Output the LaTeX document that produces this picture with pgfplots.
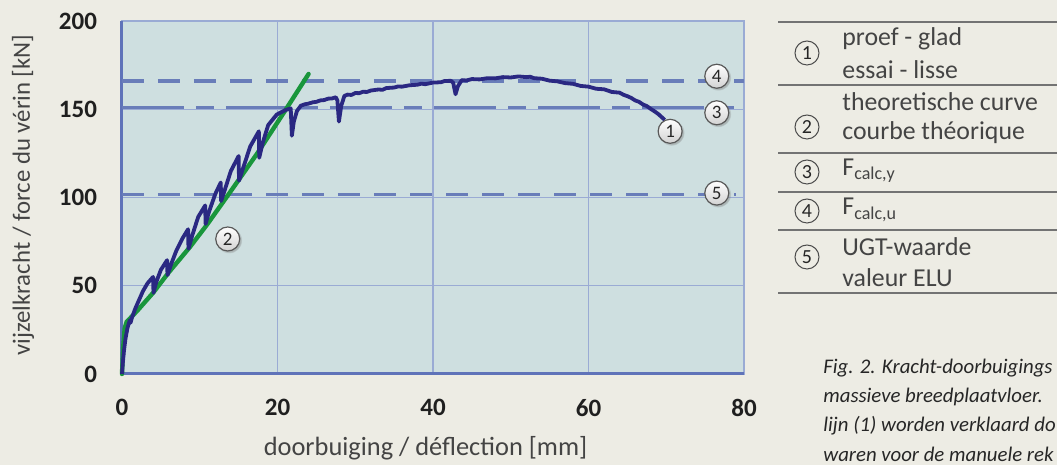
\documentclass[border=0pt]{standalone}
\usepackage{fontspec}
\setmainfont{Carlito}
\usepackage{pgfplots}
\pgfplotsset{compat=1.18}
\usetikzlibrary{shadows}
\definecolor{outerbg}{HTML}{EDECE4}
\definecolor{plotbg}{HTML}{CEDFE0}
\definecolor{gridc}{HTML}{9AABD4}
\definecolor{axisc}{HTML}{5F73B9}
\definecolor{dashc}{HTML}{697DB9}
\definecolor{testc}{HTML}{2A2882}
\definecolor{theoc}{HTML}{19963C}
\definecolor{txtc}{HTML}{444444}
\tikzset{
  plotnum/.style={circle, draw=black!65, line width=0.6pt, top color=white, bottom color=gray!35,
    minimum size=12pt, inner sep=0pt, font=\fontsize{9.5}{9.5}\selectfont, text=black!85,
    circular drop shadow={shadow xshift=0.6pt, shadow yshift=-0.6pt, opacity=0.45}},
  legnum/.style={circle, draw=black!70, line width=0.5pt, minimum size=12pt, inner sep=0pt,
    font=\fontsize{10}{10}\selectfont, text=black!85},
  legtxt/.style={anchor=west, inner sep=0pt, font=\fontsize{12.9}{12.9}\selectfont, text=txtc},
  captxt/.style={anchor=west, inner sep=0pt, font=\fontsize{10.4}{10.4}\selectfont\itshape, text=black!85}
}
\begin{document}
\begin{tikzpicture}
\useasboundingbox (0,0) rectangle (528.5pt,232.5pt);
\clip (0,0) rectangle (528.5pt,232.5pt);
\fill[outerbg] (0,0) rectangle (528.5pt,232.5pt);
\begin{axis}[
  at={(61pt,45.5pt)}, anchor=south west,
  scale only axis, width=311pt, height=176.5pt,
  xmin=0, xmax=80, ymin=0, ymax=200,
  xtick={0,20,40,60,80}, ytick={0,50,100,150,200},
  major tick length=0pt,
  grid=major,
  major grid style={draw=gridc, line width=0.6pt},
  axis line style={draw=gridc, line width=0.6pt},
  axis background/.style={fill=plotbg},
  /pgf/number format/assume math mode=true,
  ticklabel style={font=\fontsize{12.5}{12.5}\selectfont\bfseries, text=black!88},
  xticklabel style={yshift=-9pt},
  yticklabel style={xshift=-9pt},
  xlabel={doorbuiging / déflection [mm]},
  ylabel={vijzelkracht / force du vérin [kN]},
  label style={text=txtc},
  xlabel style={font=\fontsize{13.2}{13.2}\selectfont, at={(axis description cs:0.488,-0.21)}, anchor=center},
  ylabel style={font=\fontsize{12.4}{12.4}\selectfont, at={(axis description cs:-0.159,0.507)}, anchor=center, rotate=0},
  clip=false,
]
% thick left and bottom axis lines
\draw[axisc, line width=1.5pt] (axis cs:0,200) -- (axis cs:0,0) -- (axis cs:80,0);
% reference lines
\addplot[dashc, line width=1.6pt, dash pattern=on 11pt off 7pt] coordinates {(0,166) (80,166)};
\addplot[dashc, line width=1.6pt, dash pattern=on 31pt off 6pt on 9pt off 6pt] coordinates {(0,151) (80,151)};
\addplot[dashc, line width=1.6pt, dash pattern=on 11pt off 7pt] coordinates {(0,101.5) (79,101.5)};
% theoretical curve
\addplot[theoc, line width=2.2pt, line cap=round] coordinates {
(0,0) (0.15,15) (0.35,26) (0.6,29.5) (2,36) (4,46) (6,57.5) (8.75,72) (11,85)
(13.9,103) (17.4,125) (20.8,148) (24,170)};
% test curve
\addplot[testc, line width=1.9pt, line join=round] coordinates {
(0,0) (0.1,6) (0.25,13) (0.45,20) (0.7,26) (1.0,30.5) (1.1,29) (1.25,31.5) (1.7,37)
(2.2,42) (2.7,47) (3.3,51.5) (4.0,55) (4.05,46) (4.4,52) (5.0,59) (5.8,64.5)
(5.85,56) (6.3,62) (7.0,70) (7.8,77) (8.5,82) (8.55,71) (9.0,78) (9.8,89) (10.7,95.5)
(10.75,85) (11.2,92) (12.0,102) (12.7,108.5) (12.75,98) (13.2,104) (14.0,115) (15.0,123.5)
(15.05,109.5) (15.6,117) (16.5,129) (17.6,137.5) (17.65,122.5) (18.1,131) (18.8,141)
(19.9,147) (21.0,149.5) (21.7,150.5) (21.85,135) (22.1,143) (22.5,149)
(23.0,152) (23.5,152.8) (24,153.2) (24.5,153.9) (25,154.2) (25.5,155) (26,155.2)
(26.5,156) (27,156.1) (27.5,156.8) (27.7,155) (27.9,143) (28.2,152) (28.6,157.5)
(29,158.3) (29.5,158.1) (30,159.2) (30.5,159.1) (31,159.9) (31.5,159.8) (32,160.6)
(33,161.2) (33.5,161) (34,162) (35,162.3) (35.5,162.9) (36,162.8) (37,163.6) (38,163.9)
(38.5,164.5) (39,164.2) (40,165.1) (41,165.3) (41.5,166) (42.3,166.1) (42.6,165)
(42.9,158.5) (43.2,163) (43.7,166.5) (44.3,166.3) (45,167.1) (46,166.9) (47,167.6)
(48,167.5) (49,168.2) (50,168) (51,168.6) (52,168.2) (52.5,168.4) (53,167.6) (54,167.3)
(55,166.2) (56,165.8) (57,164.8) (58,164.4) (59,163.2) (60,162.8) (61,161.6) (62,161.3)
(63,159.8) (64,159.4) (64.5,158.2) (65,157.4) (65.5,156.4) (66,155) (66.5,154.2)
(67,152.7) (67.5,151.8) (68,150.2) (68.5,148.8) (69,147.2) (69.8,144)};
% circled labels
\node[plotnum] at (axis cs:70.5,137.5) {1};
\node[plotnum] at (axis cs:13.6,76.5) {2};
\node[plotnum] at (axis cs:76.5,148) {3};
\node[plotnum] at (axis cs:76.5,168.7) {4};
\node[plotnum] at (axis cs:76.5,102.5) {5};
\end{axis}
% legend table
\foreach \yy in {221.5,190,156,136.5,117.5,86}{
  \draw[black!55, line width=0.9pt] (389pt,\yy pt) -- (530pt,\yy pt);
}
\node[legnum] at (403.5pt,206pt) {1};
\node[legtxt] at (421pt,213pt) {proef - glad};
\node[legtxt] at (421pt,197.5pt) {essai - lisse};
\node[legnum] at (403.5pt,169pt) {2};
\node[legtxt] at (421pt,181.5pt) {theoretische curve};
\node[legtxt] at (421pt,166pt) {courbe théorique};
\node[legnum] at (403.5pt,146.5pt) {3};
\node[legtxt] at (421pt,147pt) {F\textsubscript{calc,y}};
\node[legnum] at (403.5pt,127pt) {4};
\node[legtxt] at (421pt,127.5pt) {F\textsubscript{calc,u}};
\node[legnum] at (403.5pt,104pt) {5};
\node[legtxt] at (421pt,109pt) {UGT-waarde};
\node[legtxt] at (421pt,93.5pt) {valeur ELU};
% caption (the reference shows it cut off at the right edge)
\node[captxt] at (411.5pt,48.5pt) {Fig. 2. Kracht-doorbuigings};
\node[captxt] at (411.5pt,34pt) {massieve breedplaatvloer.};
\node[captxt] at (411.5pt,19.5pt) {lijn (1) worden verklaard do};
\node[captxt] at (411.5pt,5.5pt) {waren voor de manuele rek};
\end{tikzpicture}
\end{document}
